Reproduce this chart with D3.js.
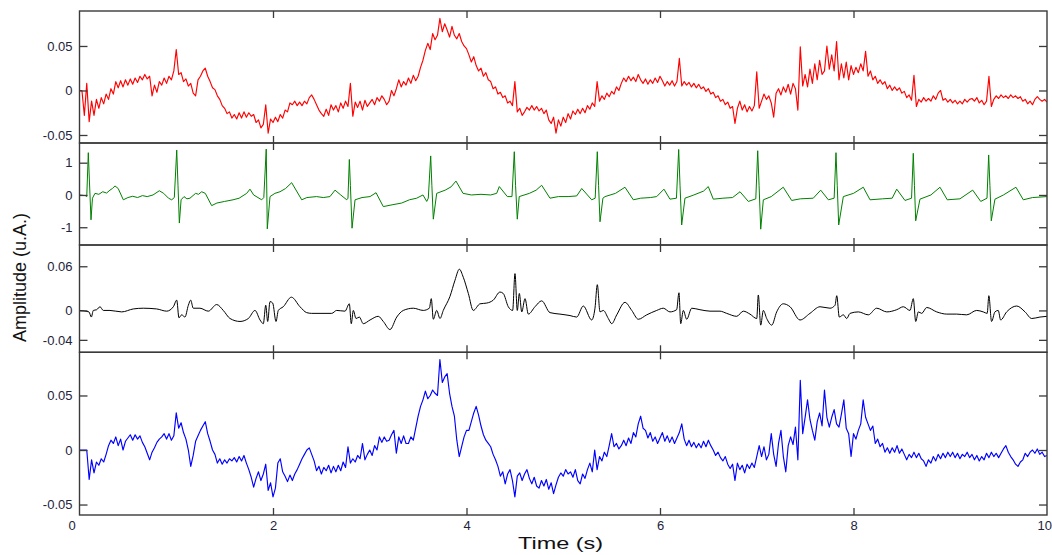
<!DOCTYPE html>
<html>
<head>
<meta charset="utf-8">
<title>Amplitude traces</title>
<script src="https://cdn.jsdelivr.net/npm/d3@7"></script>
<style>
  body { margin: 0; background: #fff; }
  text { font-family: Arial, "Liberation Sans", sans-serif; }
</style>
</head>
<body>
<script>
// sample spacing of the two noisy traces (s)
var sampleStep = 0.025;

// top trace (red), one row per second
var redValues = [
  0, 0, -0.028, 0.008, -0.035, -0.012, -0.028, -0.01, -0.02, -0.008, -0.015, -0.004, -0.01, 0.002, -0.004, 0.01, 0.003, 0.011, 0.004, 0.012, 0.006, 0.013, 0.007, 0.014, 0.009, 0.016, 0.012, 0.018, 0.013, 0.016, -0.006, 0.006, -0.002, 0.01, 0.006, 0.014, 0.008, 0.016, 0.012, 0.022,
  0.046, 0.018, 0.02, 0.01, 0.013, 0.005, 0.008, -0.003, -0.006, 0.012, 0.016, 0.022, 0.025, 0.016, 0.01, 0.003, 0.001, -0.006, -0.01, -0.017, -0.02, -0.026, -0.024, -0.031, -0.027, -0.032, -0.025, -0.031, -0.024, -0.03, -0.025, -0.029, -0.027, -0.036, -0.033, -0.042, -0.038, -0.016, -0.048, -0.032,
  -0.036, -0.03, -0.035, -0.027, -0.031, -0.022, -0.024, -0.014, -0.016, -0.012, -0.017, -0.013, -0.017, -0.012, -0.015, -0.008, -0.005, -0.01, -0.016, -0.022, -0.026, -0.029, -0.021, -0.028, -0.016, -0.022, -0.017, -0.024, -0.014, -0.02, -0.012, -0.018, 0.008, -0.029, -0.013, -0.019, -0.012, -0.022, -0.011, -0.018,
  -0.014, -0.01, -0.016, -0.008, -0.012, -0.006, -0.01, -0.016, -0.012, 0.0, -0.006, 0.002, 0.012, 0.004, 0.01, 0.006, 0.014, 0.008, 0.017, 0.011, 0.016, 0.026, 0.034, 0.045, 0.053, 0.046, 0.064, 0.057, 0.062, 0.081, 0.066, 0.075, 0.068, 0.06, 0.072, 0.062, 0.058, 0.064, 0.055, 0.05,
  0.047, 0.04, 0.032, 0.038, 0.028, 0.022, 0.025, 0.016, 0.02, 0.012, 0.01, 0.002, 0.004, -0.004, -0.002, -0.008, -0.006, -0.014, -0.012, -0.017, 0.01, -0.024, -0.02, -0.028, -0.024, -0.019, -0.022, -0.017, -0.022, -0.018, -0.023, -0.02, -0.026, -0.022, -0.033, -0.037, -0.03, -0.048, -0.033, -0.04,
  -0.03, -0.036, -0.026, -0.032, -0.023, -0.027, -0.021, -0.026, -0.02, -0.025, -0.017, -0.021, -0.014, -0.018, 0.01, -0.012, -0.006, -0.01, -0.003, -0.007, -0.001, -0.004, 0.004, 0.0, 0.008, 0.014, 0.01, 0.016, 0.011, 0.015, 0.01, 0.018, 0.012, 0.008, 0.013, 0.007, 0.012, 0.008, 0.014, 0.009,
  0.016, 0.011, 0.005, 0.01, 0.006, 0.011, 0.005, 0.01, 0.036, 0.005, 0.01, 0.006, 0.009, 0.004, 0.008, 0.003, 0.007, 0.002, 0.004, -0.001, 0.002, -0.004, -0.002, -0.008, -0.006, -0.012, -0.01, -0.016, -0.013, -0.02, -0.018, -0.037, -0.02, -0.012, -0.022, -0.016, -0.024, -0.018, -0.023, -0.017,
  0.021, -0.02, -0.012, -0.004, -0.01, -0.006, -0.014, -0.03, -0.003, 0.002, -0.005, 0.004, -0.002, 0.007, -0.004, 0.008, 0.002, -0.022, 0.049, 0.005, 0.018, 0.004, 0.024, 0.008, 0.03, 0.012, 0.034, 0.018, 0.022, 0.05, 0.024, 0.04, 0.022, 0.055, 0.012, 0.03, 0.014, 0.032, 0.012, 0.028,
  0.018, 0.026, 0.02, 0.03, 0.022, 0.044, 0.016, 0.022, 0.012, 0.016, 0.008, 0.012, 0.007, 0.01, 0.002, 0.006, 0.0, 0.004, 0.0, 0.003, -0.003, -0.001, -0.008, -0.005, -0.011, 0.017, -0.018, -0.01, -0.013, -0.008, -0.012, -0.009, -0.012, -0.006, -0.01, -0.003, 0.0, -0.011, -0.009, -0.013,
  -0.01, -0.014, -0.011, -0.015, -0.012, -0.015, -0.01, -0.013, -0.01, -0.009, -0.012, -0.008, -0.014, -0.011, -0.016, -0.012, 0.016, -0.018, -0.01, -0.006, -0.009, -0.005, -0.008, -0.006, -0.009, -0.005, -0.008, -0.006, -0.009, -0.007, -0.012, -0.01, -0.015, -0.012, -0.016, -0.01, -0.007, -0.01, -0.012, -0.01,
  -0.013
];

// second trace (green), [time, value]
var ecgPoints = [
  [0, 0], [0.06, -0.02], [0.075, -0.05], [0.091, 1.31], [0.103, 0.4], [0.119, -0.77], [0.134, -0.1], [0.16, 0.05], [0.2, 0.02], [0.24, 0.1], [0.28, 0.06], [0.315, 0.15], [0.34, 0.2], [0.367, 0.28], [0.4, 0.2], [0.453, -0.15], [0.5, -0.08], [0.55, -0.04], [0.6, -0.08], [0.65, -0.02], [0.7, -0.05], [0.76, 0.0], [0.825, 0.13], [0.87, 0.05], [0.92, -0.1], [0.953, -0.15], [0.98, -0.08],
  [1.005, 1.39], [1.018, 0.3], [1.032, -0.87], [1.05, -0.15], [1.08, -0.05], [1.11, -0.12], [1.142, -0.1], [1.2, 0.05], [1.23, 0.02], [1.263, 0.1], [1.3, 0.05], [1.366, -0.33], [1.42, -0.25], [1.5, -0.2], [1.587, -0.15], [1.65, -0.1], [1.728, 0.05], [1.762, 0.18], [1.8, 0.0], [1.883, -0.15], [1.905, -0.08],
  [1.93, 1.42], [1.941, -1.05], [1.969, -0.05], [2.02, 0.05], [2.072, 0.1], [2.13, 0.2], [2.193, 0.38], [2.297, -0.15], [2.35, -0.08], [2.45, -0.05], [2.52, -0.08], [2.589, -0.05], [2.641, 0.15], [2.7, 0.0], [2.762, -0.15], [2.775, -0.1],
  [2.789, 1.1], [2.8, 0.3], [2.817, -1.03], [2.848, -0.15], [2.92, -0.08], [3.003, -0.05], [3.065, 0.07], [3.14, -0.36], [3.24, -0.3], [3.33, -0.25], [3.41, -0.15], [3.485, -0.1], [3.55, 0.0], [3.589, -0.2], [3.605, -0.1],
  [3.63, 1.21], [3.642, 0.3], [3.657, -0.75], [3.692, 0.05], [3.78, 0.15], [3.84, 0.25], [3.891, 0.43], [3.964, 0.05], [4.05, 0.0], [4.15, 0.02], [4.25, 0.0], [4.312, 0.05], [4.339, 0.26], [4.422, -0.05], [4.47, -0.05],
  [4.494, 1.34], [4.507, 0.3], [4.525, -0.75], [4.545, -0.05], [4.65, 0.05], [4.72, 0.15], [4.777, 0.3], [4.863, -0.1], [4.95, -0.05], [5.05, -0.05], [5.139, -0.03], [5.191, 0.2], [5.25, 0.0], [5.294, -0.15], [5.33, -0.1],
  [5.352, 1.34], [5.365, 0.3], [5.38, -0.83], [5.41, -0.1], [5.432, -0.05], [5.54, 0.05], [5.638, 0.24], [5.724, -0.15], [5.8, -0.1], [5.9, -0.08], [5.966, -0.05], [6.041, 0.18], [6.103, -0.13], [6.17, -0.1],
  [6.193, 1.41], [6.207, 0.3], [6.224, -0.93], [6.258, -0.1], [6.35, 0.0], [6.45, 0.12], [6.499, 0.26], [6.551, -0.13], [6.65, -0.1], [6.75, -0.08], [6.827, 0.1], [6.913, -0.2], [6.99, -0.12],
  [7.01, 1.37], [7.024, 0.3], [7.041, -1.06], [7.068, -0.15], [7.15, -0.05], [7.274, 0.24], [7.361, -0.17], [7.45, -0.12], [7.584, -0.1], [7.661, 0.15], [7.74, -0.15], [7.8, -0.1],
  [7.819, 1.31], [7.832, 0.3], [7.847, -0.93], [7.895, -0.05], [8.0, 0.05], [8.101, 0.24], [8.171, -0.15], [8.3, -0.12], [8.4, -0.1], [8.447, 0.18], [8.532, -0.17], [8.6, -0.1],
  [8.618, 1.29], [8.63, 0.3], [8.643, -0.8], [8.687, -0.13], [8.8, 0.0], [8.894, 0.24], [8.969, -0.15], [9.1, -0.12], [9.232, 0.15], [9.315, -0.2], [9.38, -0.1],
  [9.397, 1.24], [9.41, 0.3], [9.424, -0.8], [9.462, -0.13], [9.55, 0.0], [9.679, 0.24], [9.755, -0.15], [9.85, -0.08], [10, -0.05]
];

// third trace (black), [time, value]
var blackPoints = [
  [0, 0], [0.098, -0.002], [0.122, -0.009], [0.143, 0.0], [0.178, 0.001], [0.212, 0.005], [0.246, 0.0], [0.315, 0.0], [0.436, -0.002], [0.556, 0.002], [0.659, 0.003], [0.798, 0.002], [0.901, -0.001], [0.97, 0.005],
  [1.005, 0.014], [1.028, -0.01], [1.056, -0.006], [1.09, -0.009], [1.125, 0.007], [1.149, 0.014], [1.176, 0.003], [1.245, 0.003], [1.331, -0.001], [1.418, 0.008], [1.486, 0.0], [1.556, -0.011], [1.659, -0.015], [1.745, -0.011], [1.814, 0.0], [1.866, -0.013], [1.9, -0.018], [1.925, 0.007], [1.945, -0.015], [1.969, 0.012], [1.997, 0.01],
  [2.031, -0.015], [2.055, 0.0], [2.106, 0.005], [2.19, 0.018], [2.279, 0.005], [2.348, -0.003], [2.4, -0.004], [2.486, -0.004], [2.607, -0.004], [2.658, 0.0], [2.744, -0.001], [2.789, 0.009], [2.809, -0.018], [2.83, 0.0], [2.858, -0.011], [2.892, -0.009], [2.933, -0.018],
  [3.003, -0.013], [3.088, -0.008], [3.14, -0.015], [3.209, -0.026], [3.279, -0.009], [3.347, 0.0], [3.45, 0.003], [3.553, 0.0], [3.616, 0.003], [3.636, 0.016], [3.657, -0.012], [3.692, 0.0], [3.726, -0.011], [3.76, 0.0], [3.829, 0.019], [3.881, 0.041], [3.926, 0.056], [3.967, 0.045],
  [4.019, 0.023], [4.07, 0.0], [4.14, 0.009], [4.209, 0.01], [4.277, 0.014], [4.346, 0.025], [4.38, 0.023], [4.432, 0.005], [4.477, 0.0], [4.501, 0.05], [4.525, 0.0], [4.546, 0.023], [4.571, -0.002], [4.605, 0.016], [4.639, -0.005], [4.708, 0.005], [4.777, 0.013], [4.863, -0.003], [4.966, -0.005],
  [5.07, -0.007], [5.139, -0.009], [5.207, 0.006], [5.294, -0.013], [5.328, 0.003], [5.352, 0.035], [5.38, -0.002], [5.414, 0.0], [5.466, -0.011], [5.501, -0.018], [5.553, -0.006], [5.638, 0.011], [5.708, 0.0], [5.776, -0.012], [5.863, -0.006], [5.966, 0.0],
  [6.034, 0.003], [6.103, -0.002], [6.172, 0.001], [6.196, 0.024], [6.214, -0.018], [6.241, 0.0], [6.276, -0.012], [6.328, 0.003], [6.413, 0.001], [6.517, -0.001], [6.62, -0.001], [6.689, -0.004], [6.793, -0.008], [6.861, -0.001], [6.93, -0.005],
  [7.0, -0.011], [7.016, 0.021], [7.041, -0.02], [7.068, 0.0], [7.103, -0.011], [7.155, -0.02], [7.206, -0.002], [7.274, 0.009], [7.344, 0.005], [7.447, -0.013], [7.55, -0.004], [7.654, 0.005], [7.757, 0.003], [7.809, 0.007], [7.827, 0.02], [7.853, -0.009], [7.895, -0.006], [7.93, -0.011], [7.964, -0.004],
  [8.05, -0.002], [8.153, -0.006], [8.24, 0.003], [8.344, -0.002], [8.447, 0.001], [8.515, 0.005], [8.584, 0.0], [8.618, 0.016], [8.643, -0.015], [8.67, -0.002], [8.705, -0.004], [8.757, 0.004], [8.86, -0.002], [8.964, -0.005],
  [9.067, -0.005], [9.17, -0.006], [9.273, 0.0], [9.341, -0.002], [9.382, -0.004], [9.399, 0.02], [9.427, -0.015], [9.462, -0.002], [9.496, 0.0], [9.521, -0.013], [9.583, -0.002], [9.687, 0.006], [9.773, -0.002], [9.842, -0.011], [9.927, -0.009], [10, -0.008]
];

// bottom trace (blue), one row per second
var blueValues = [
  0, 0, 0, 0, -0.027, -0.009, -0.021, -0.011, -0.014, -0.008, -0.011, -0.004, 0.004, 0.009, 0.006, 0.012, 0.004, 0.01, 0.0, 0.008, 0.011, 0.014, 0.009, 0.014, 0.01, 0.013, 0.007, 0.003, -0.003, -0.009, -0.002, 0.002, 0.007, 0.01, 0.012, 0.015, 0.01, 0.015, 0.009, 0.013,
  0.034, 0.02, 0.025, 0.016, 0.01, 0.0, -0.015, -0.005, 0.008, 0.013, 0.018, 0.022, 0.026, 0.015, 0.008, 0.0, -0.004, -0.012, -0.008, -0.013, -0.009, -0.012, -0.008, -0.01, -0.007, -0.011, -0.006, -0.01, -0.005, -0.012, -0.018, -0.025, -0.034, -0.026, -0.02, -0.028, -0.022, -0.013, -0.037, -0.03,
  -0.043, -0.035, -0.012, -0.008, -0.02, -0.024, -0.029, -0.023, -0.028, -0.022, -0.018, -0.013, -0.008, -0.004, 0.0, 0.002, -0.004, -0.01, -0.019, -0.015, -0.022, -0.016, -0.019, -0.014, -0.021, -0.015, -0.02, -0.014, -0.019, -0.011, -0.016, 0.003, -0.012, -0.008, -0.011, -0.005, -0.008, 0.006, -0.009, -0.004,
  0.0, -0.005, 0.004, 0.0, 0.012, 0.007, 0.012, 0.008, 0.009, 0.014, 0.018, -0.003, 0.012, 0.006, 0.013, 0.006, 0.006, 0.012, 0.009, 0.02, 0.031, 0.04, 0.046, 0.054, 0.047, 0.05, 0.055, 0.052, 0.05, 0.083, 0.062, 0.067, 0.07, 0.052, 0.04, 0.031, 0.009, -0.006, 0.003, 0.012,
  0.018, 0.018, 0.026, 0.034, 0.04, 0.032, 0.022, 0.014, 0.009, 0.006, 0.003, -0.004, -0.009, -0.015, -0.024, -0.02, -0.031, -0.022, -0.018, -0.028, -0.043, -0.024, -0.021, -0.028, -0.022, -0.018, -0.026, -0.031, -0.025, -0.033, -0.035, -0.028, -0.033, -0.027, -0.036, -0.03, -0.04, -0.032, -0.025, -0.021,
  -0.024, -0.018, -0.022, -0.02, -0.025, -0.018, -0.028, -0.031, -0.022, -0.026, -0.018, -0.012, -0.02, 0.0, -0.018, -0.006, -0.01, -0.002, -0.006, 0.004, 0.015, 0.003, 0.006, 0.001, 0.004, 0.009, 0.004, 0.011, 0.006, 0.016, 0.012, 0.024, 0.031, 0.02, 0.018, 0.011, 0.016, 0.008, 0.012, 0.006,
  0.011, 0.016, 0.008, 0.013, 0.007, 0.012, 0.006, 0.011, 0.016, 0.024, 0.01, 0.004, 0.009, 0.003, 0.007, 0.002, 0.006, 0.002, 0.008, 0.003, 0.009, 0.004, 0.0, -0.005, -0.002, -0.007, -0.01, -0.006, -0.013, -0.017, -0.013, -0.028, -0.012, -0.018, -0.014, -0.021, -0.013, -0.017, -0.012, -0.016,
  -0.006, 0.004, -0.006, 0.003, -0.009, -0.004, 0.015, -0.004, -0.015, 0.006, 0.018, -0.006, -0.02, 0.004, 0.012, 0.005, 0.021, -0.009, 0.064, 0.015, 0.03, 0.046, 0.028, 0.018, 0.009, 0.026, 0.034, 0.022, 0.055, 0.03, 0.021, 0.03, 0.037, 0.024, 0.021, 0.033, 0.046, 0.02, 0.015, -0.006,
  0.015, 0.01, 0.018, 0.024, 0.046, 0.03, 0.024, 0.018, 0.022, 0.006, 0.01, 0.003, 0.006, -0.002, 0.002, -0.003, 0.002, -0.002, 0.004, -0.003, 0.001, -0.004, -0.009, -0.004, -0.007, -0.002, -0.007, -0.003, -0.008, -0.01, -0.015, -0.009, -0.012, -0.006, -0.01, -0.004, -0.008, -0.003, -0.007, -0.002,
  -0.006, -0.002, -0.007, -0.003, -0.008, -0.004, -0.006, -0.002, -0.007, -0.004, -0.009, -0.005, -0.01, -0.006, -0.009, -0.003, -0.007, -0.002, -0.006, -0.003, -0.007, -0.003, 0.001, 0.004, -0.002, -0.006, -0.009, -0.013, -0.015, -0.011, -0.009, -0.003, -0.006, -0.002, 0.0, -0.003, 0.001, -0.004, -0.002, -0.006,
  -0.005
];

var xTicks = [0, 2, 4, 6, 8, 10];
var redTicks = [-0.05, 0, 0.05];
var ecgTicks = [-1, 0, 1];
var blackTicks = [-0.04, 0, 0.06];
var blueTicks = [-0.05, 0, 0.05];

var width = 1052, height = 555;
var left = 79.5, right = 1047;

var svg = d3.select("body").append("svg")
    .attr("width", width)
    .attr("height", height);

var x = d3.scaleLinear().domain([0, 10]).range([left, right]);

function sampled(values) {
    return values.map(function(v, i) { return [i * sampleStep, v]; });
}

var panels = [
    {top: 11, bottom: 143, domain: [-0.059, 0.0893], ticks: redTicks, color: "#ff0000", width: 1.15, data: sampled(redValues), curve: d3.curveLinear},
    {top: 143, bottom: 245, domain: [-1.55, 1.61], ticks: ecgTicks, color: "#008000", width: 1, data: ecgPoints, curve: d3.curveLinear},
    {top: 245, bottom: 352.3, domain: [-0.0569, 0.0889], ticks: blackTicks, color: "#000000", width: 1, data: blackPoints, curve: d3.curveMonotoneX},
    {top: 352.3, bottom: 515, domain: [-0.0596, 0.0896], ticks: blueTicks, color: "#0000ff", width: 1.15, data: sampled(blueValues), curve: d3.curveLinear}
];

var axisColor = "#3a3a3a";
var labelColor = "#23233a";

panels.forEach(function(p, k) {
    var y = d3.scaleLinear().domain(p.domain).range([p.bottom, p.top]);

    svg.append("clipPath").attr("id", "clip" + k)
        .append("rect")
        .attr("x", left).attr("y", p.top)
        .attr("width", right - left).attr("height", p.bottom - p.top);

    var line = d3.line()
        .x(function(d) { return x(d[0]); })
        .y(function(d) { return y(d[1]); })
        .curve(p.curve);

    svg.append("path")
        .datum(p.data)
        .attr("clip-path", "url(#clip" + k + ")")
        .attr("d", line)
        .attr("fill", "none")
        .attr("stroke", p.color)
        .attr("stroke-width", p.width)
        .attr("stroke-linejoin", "round");

    // y ticks, inward on both sides
    var gl = svg.append("g")
        .attr("transform", "translate(" + left + ",0)")
        .call(d3.axisLeft(y).tickValues(p.ticks).tickSize(-8).tickPadding(7)
            .tickFormat(function(d) { return String(d); }));
    var gr = svg.append("g")
        .attr("transform", "translate(" + right + ",0)")
        .call(d3.axisRight(y).tickValues(p.ticks).tickSize(-8).tickFormat(""));

    // x ticks at top and bottom of each panel
    var gt = svg.append("g")
        .attr("transform", "translate(0," + p.top + ")")
        .call(d3.axisTop(x).tickValues([2, 4, 6, 8]).tickSize(-7).tickFormat(""));
    var gb = svg.append("g")
        .attr("transform", "translate(0," + p.bottom + ")")
        .call(d3.axisBottom(x).tickValues(k == 3 ? xTicks : [2, 4, 6, 8]).tickSize(-7).tickPadding(6)
            .tickFormat(k == 3 ? function(d) { return String(d); } : ""));

    [gl, gr, gt, gb].forEach(function(g) {
        g.select(".domain").remove();
        g.selectAll("line").attr("stroke", axisColor).attr("stroke-width", 1.3);
        g.selectAll("text")
            .attr("fill", labelColor)
            .style("font-size", "13px")
            .style("font-family", "Arial, 'Liberation Sans', sans-serif");
    });

    if (k == 3) {
        // end labels sit just inside the frame edges, as in the original
        gb.selectAll(".tick")
            .filter(function(d) { return d == 0 || d == 10; })
            .select("line").remove();
        gb.selectAll(".tick text")
            .filter(function(d) { return d == 0; })
            .attr("x", -8);
        gb.selectAll(".tick text")
            .filter(function(d) { return d == 10; })
            .attr("text-anchor", "end")
            .attr("x", 4.5);
    }

    // panel frame
    svg.append("rect")
        .attr("x", left).attr("y", p.top)
        .attr("width", right - left).attr("height", p.bottom - p.top)
        .attr("fill", "none")
        .attr("stroke", axisColor)
        .attr("stroke-width", 1.4);
});

svg.append("text")
    .attr("x", 560.5)
    .attr("y", 549)
    .attr("text-anchor", "middle")
    .attr("textLength", 85)
    .attr("lengthAdjust", "spacingAndGlyphs")
    .style("font-size", "17px")
    .attr("fill", "#111")
    .text("Time (s)");

svg.append("text")
    .attr("transform", "translate(26,277.5) rotate(-90)")
    .attr("text-anchor", "middle")
    .style("font-size", "18px")
    .attr("fill", "#111")
    .text("Amplitude (u.A.)");
</script>
</body>
</html>
